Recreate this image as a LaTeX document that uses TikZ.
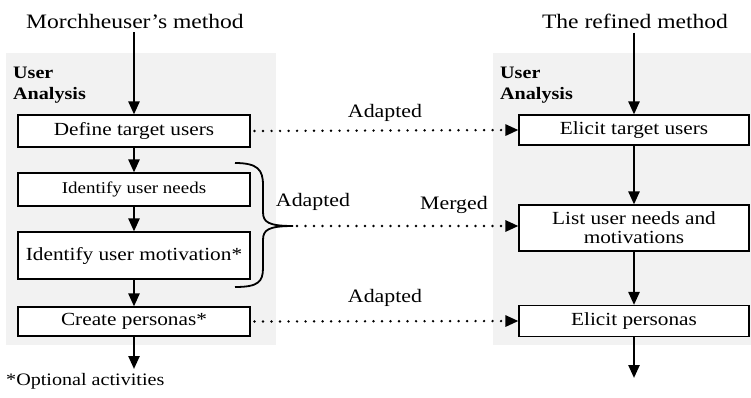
\documentclass[tikz,border=0pt]{standalone}
\usepackage{fontspec}
\setmainfont[FakeStretch=1.15]{Liberation Serif}
\usetikzlibrary{arrows.meta}
\definecolor{panelgray}{RGB}{242,242,242}
\tikzset{
  panel/.style={fill=panelgray, draw=none},
  stepbox/.style={draw=black, fill=white, line width=1.1pt, minimum width=232pt, align=center, inner sep=0pt, font=\fontsize{18.5}{21}\selectfont},
  flow/.style={line width=2.4pt, -{Triangle[length=13pt,width=11pt]}},
  link/.style={line width=2.7pt, line cap=round, dash pattern=on 0pt off 8.5pt, -{Triangle[length=13pt,width=11pt]}},
  title/.style={font=\fontsize{20.5}{23}\selectfont, inner sep=0pt},
  lab/.style={font=\fontsize{19}{21}\selectfont, inner sep=0pt},
  head/.style={font=\bfseries\fontsize{17.5}{21}\selectfont, align=left, inner sep=0pt, anchor=north west}
}
\begin{document}
\begin{tikzpicture}[x=1pt,y=-1pt]
\useasboundingbox (0,0) rectangle (751,397);
% panels
\fill[panelgray] (6,53) rectangle (276,345);
\fill[panelgray] (493,53) rectangle (751,345);
% titles
\node[title] (t1) at (135,21) {Morchheuser’s method};
\node[title] (t2) at (635,21) {The refined method};
% headers
\node[head] (h1) at (13,67) {User\\Analysis};
\node[head] (h2) at (500,67) {User\\Analysis};
% left boxes
\node[stepbox, minimum height=32pt] (a1) at (134,131) {Define target users};
\node[stepbox, minimum height=33pt, font=\fontsize{16.5}{19}\selectfont] (a2) at (134,189.5) {Identify user needs};
\node[stepbox, minimum height=47pt] (a3) at (134,255.5) {Identify user motivation*};
\node[stepbox, minimum height=29pt] (a4) at (134,321.5) {Create personas*};
\coordinate (aend) at (134,369);
% right boxes
\node[stepbox, minimum width=230pt, minimum height=30pt] (b1) at (634,130) {Elicit target users};
\node[stepbox, minimum width=230pt, minimum height=46pt] (b2) at (634,228) {List user needs and\\[-2pt]motivations};
\node[stepbox, minimum width=230pt, minimum height=31pt] (b3) at (634,321) {Elicit personas};
\coordinate (bend) at (634,378);
% vertical flow
\draw[flow] (t1.south -| a1.north) ++(0,4) -- (a1.north);
\draw[flow] (t2.south -| b1.north) ++(0,4) -- (b1.north);
\draw[flow] (a1) -- (a2);
\draw[flow] (a2) -- (a3);
\draw[flow] (a3) -- (a4);
\draw[flow] (a4) -- (aend);
\draw[flow] (b1) -- (b2);
\draw[flow] (b2) -- (b3);
\draw[flow] (b3) -- (bend);
% brace
\coordinate (btop) at (235,163);
\coordinate (bbot) at (235,287);
\coordinate (btip) at (293,226);
\draw[line width=1.8pt] (btop) .. controls (258,163) and (263,170) .. (263,185)
  -- (263,212) .. controls (263,222) and (268,226) .. (btip)
  .. controls (268,226) and (263,230) .. (263,240)
  -- (263,268) .. controls (263,282) and (258,287) .. (bbot);
% dotted links
\draw[link] (a1.east) ++(4,0) -- (b1.west);
\draw[link] (btip) ++(4,0) -- (btip -| b2.west);
\draw[link] (a4.east) ++(4,0) -- (b3.west);
% labels
\node[lab] (l1) at (385,113) {Adapted};
\node[lab] (l2) at (313,202) {Adapted};
\node[lab] (l3) at (454,205) {Merged};
\node[lab] (l4) at (385,298) {Adapted};
\node[lab, anchor=west, font=\fontsize{17.5}{19}\selectfont] (note) at (6,381) {*Optional activities};
\end{tikzpicture}
\end{document}
